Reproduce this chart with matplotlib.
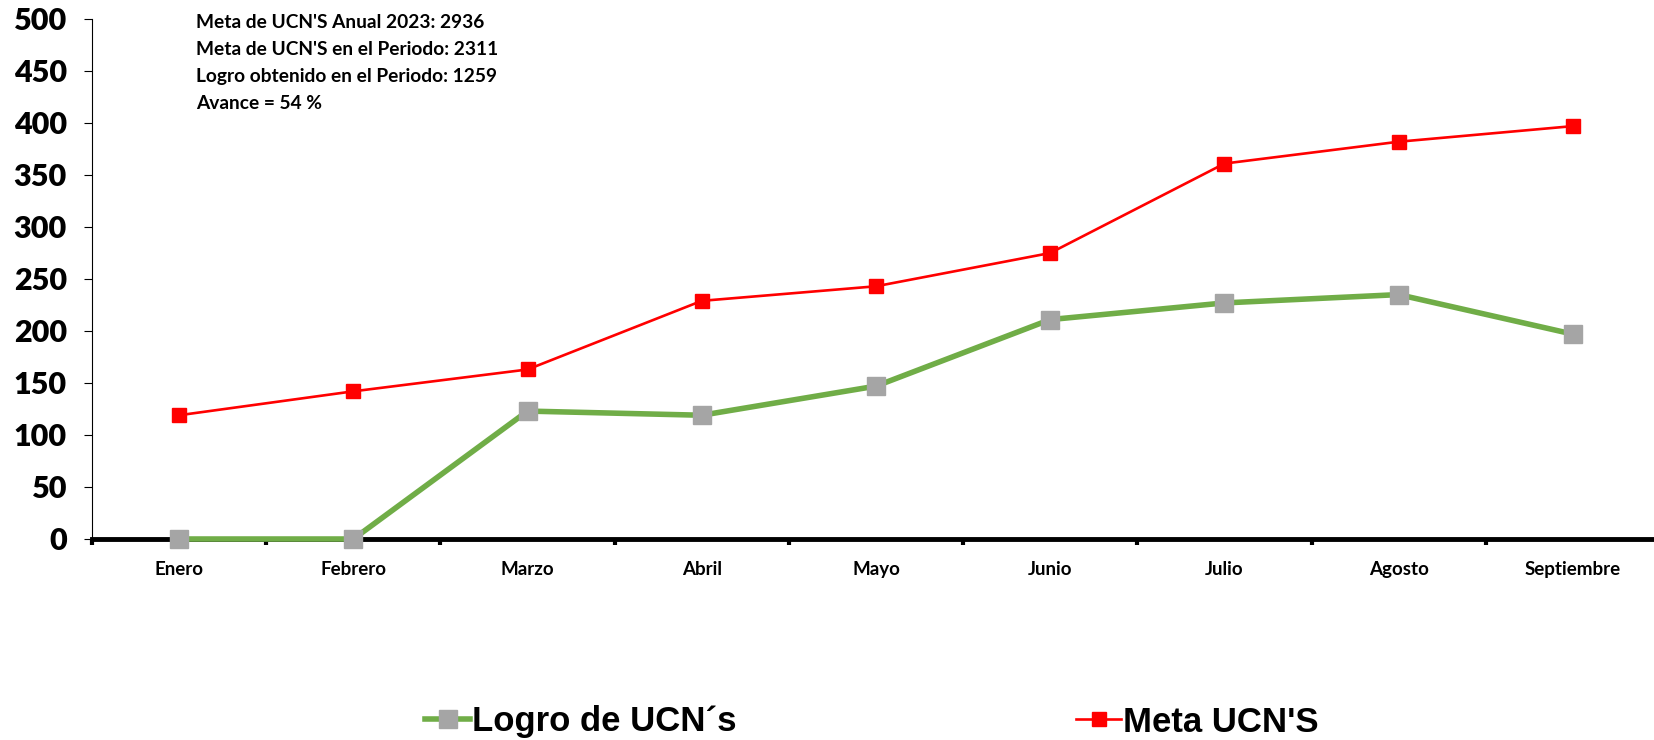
import matplotlib
matplotlib.use("Agg")
from matplotlib import pyplot as plt

# monthly UCN figures, Jan-Sep 2023
months = ["Enero", "Febrero", "Marzo", "Abril", "Mayo", "Junio", "Julio", "Agosto", "Septiembre"]
logro = [0, 0, 123, 119, 147, 211, 227, 235, 197]
meta = [119, 142, 163, 229, 243, 275, 361, 382, 397]

summary_lines = [
    "Meta de UCN'S Anual 2023: 2936",
    "Meta de UCN'S en el Periodo: 2311",
    "Logro obtenido en el Periodo: 1259",
    "Avance = 54 %",
]

label_font = ["Lato", "DejaVu Sans"]
legend_font = ["Liberation Sans Narrow", "Liberation Sans", "DejaVu Sans"]

fig = plt.figure(figsize=(16.54, 7.40), dpi=100)
ax = fig.add_axes([92 / 1654, 1 - 539 / 740, 1568 / 1654, 520 / 740])

x = list(range(len(months)))
l_logro, = ax.plot(x, logro, color="#70AD47", linewidth=4, marker="s",
                   markersize=12.5, markerfacecolor="#A5A5A5", markeredgecolor="#A5A5A5",
                   zorder=3, clip_on=False)
l_meta, = ax.plot(x, meta, color="#FF0000", linewidth=1.9, marker="s",
                  markersize=9.5, markerfacecolor="#FF0000", markeredgecolor="#FF0000",
                  zorder=4, clip_on=False)

ax.set_xlim(-0.5, len(months) - 0.5)
ax.set_ylim(0, 500)
ax.set_yticks(range(0, 501, 50))
ax.set_yticklabels([str(v) for v in range(0, 501, 50)], fontsize=22, fontweight="heavy",
                   family=label_font)

# category labels centred, ticks on the boundaries
ax.set_xticks(x)
ax.set_xticklabels(months, fontsize=13.5, fontweight="bold", family=label_font)
ax.tick_params(axis="x", which="major", length=0, pad=16)
ax.set_xticks([i - 0.5 for i in range(len(months) + 1)], minor=True)
ax.tick_params(axis="x", which="minor", length=4, width=3, direction="out", color="black")
ax.tick_params(axis="y", length=6, width=0.8, pad=12)

for side in ("top", "right"):
    ax.spines[side].set_visible(False)
ax.spines["left"].set_linewidth(0.8)
ax.spines["bottom"].set_linewidth(3.5)
ax.spines["bottom"].set_zorder(2)

for i, line in enumerate(summary_lines):
    fig.text(196 / 1654, 1 - (22 + 27.2 * i) / 740, line, fontsize=13.8, fontweight="bold",
             family=label_font, va="center", ha="left")

leg_kw = dict(frameon=False, handlelength=1.3, handletextpad=0.05, borderpad=0,
              borderaxespad=0,
              prop={"family": legend_font, "weight": "bold", "size": 25})
fig.legend([l_logro], ["Logro de UCN´s"], loc="center left",
           bbox_to_anchor=(425 / 1654, 1 - 722 / 740), **leg_kw)
fig.legend([l_meta], ["Meta UCN'S"], loc="center left",
           bbox_to_anchor=(1076 / 1654, 1 - 722 / 740), **leg_kw)

fig.savefig("out.png", dpi=100)
plt.close(fig)
